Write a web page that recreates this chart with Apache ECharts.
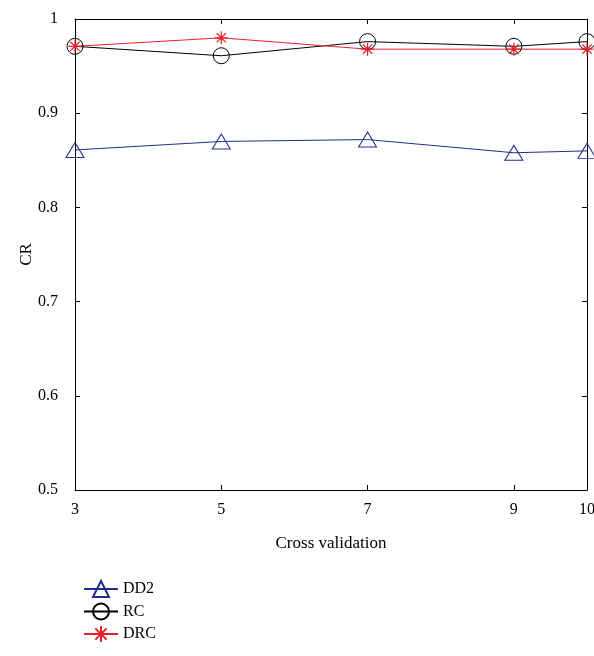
<!DOCTYPE html>
<html><head><meta charset="utf-8">
<script src="https://cdn.jsdelivr.net/npm/echarts@6/dist/echarts.min.js"></script>
<style>html,body{margin:0;padding:0;background:#fff}#c{width:594px;height:656px}</style>
</head><body><div id="c"></div>
<script>
const xValues = [3, 5, 7, 9, 10];
const dd2 = [0.861, 0.870, 0.872, 0.858, 0.860];
const rc = [0.971, 0.961, 0.976, 0.971, 0.976];
const drc = [0.971, 0.980, 0.968, 0.968, 0.968];
const xTicks = [3, 5, 7, 9, 10];
const yTicks = [0.5, 0.6, 0.7, 0.8, 0.9, 1];

const font = 'Liberation Serif';
const star = 'path://M5,0L5,10M0,5L10,5M1.46,1.46L8.54,8.54M1.46,8.54L8.54,1.46';
const pair = v => xValues.map((x, i) => [x, v[i]]);

const chart = echarts.init(document.getElementById('c'));
const axisCommon = {
  axisLine: {show: true, onZero: false, lineStyle: {color: '#000', width: 1}},
  axisTick: {show: true, inside: true, length: 5, lineStyle: {color: '#000'}},
  splitLine: {show: false}
};
chart.setOption({
  animation: false,
  backgroundColor: '#fff',
  grid: {left: 75, right: 7, top: 19, bottom: 166, outerBoundsMode: 'none', containLabel: false},
  xAxis: [
    Object.assign({}, axisCommon, {
      type: 'value', min: 3, max: 10, position: 'bottom',
      axisTick: Object.assign({}, axisCommon.axisTick, {customValues: xTicks}),
      axisLabel: {customValues: xTicks, color: '#000', fontFamily: font, fontSize: 16, margin: 12},
      name: 'Cross validation', nameLocation: 'middle', nameGap: 45,
      nameTextStyle: {color: '#000', fontFamily: font, fontSize: 17}
    }),
    Object.assign({}, axisCommon, {
      type: 'value', min: 3, max: 10, position: 'top',
      axisTick: Object.assign({}, axisCommon.axisTick, {customValues: xTicks}),
      axisLabel: {show: false}
    })
  ],
  yAxis: [
    Object.assign({}, axisCommon, {
      type: 'value', min: 0.5, max: 1, interval: 0.1, position: 'left',
      axisLabel: {color: '#000', fontFamily: font, fontSize: 16, margin: 17,
        formatter: v => (Math.abs(v - 1) < 1e-9 ? '1' : v.toFixed(1))},
      name: 'CR', nameLocation: 'middle', nameGap: 40, nameRotate: 90, nameMoveOverlap: false,
      nameTextStyle: {color: '#000', fontFamily: font, fontSize: 17}
    }),
    Object.assign({}, axisCommon, {
      type: 'value', min: 0.5, max: 1, interval: 0.1, position: 'right',
      axisLabel: {show: false}
    })
  ],
  legend: {
    orient: 'vertical', left: 78, top: 575, itemWidth: 34, itemHeight: 20, itemGap: 4.5,
    textStyle: {color: '#000', fontFamily: font, fontSize: 16},
    data: ['DD2', 'RC', 'DRC']
  },
  series: [
    {name: 'DD2', type: 'line', data: pair(dd2), symbol: 'triangle', symbolSize: [18, 15],
     lineStyle: {color: '#222c8e', width: 1}, itemStyle: {color: 'rgba(0,0,0,0)', borderColor: '#222c8e', borderWidth: 1}},
    {name: 'RC', type: 'line', data: pair(rc), symbol: 'circle', symbolSize: 16,
     lineStyle: {color: '#000', width: 1}, itemStyle: {color: 'rgba(0,0,0,0)', borderColor: '#000', borderWidth: 1}},
    {name: 'DRC', type: 'line', data: pair(drc), symbol: star, symbolSize: 13,
     lineStyle: {color: '#e8202a', width: 1}, itemStyle: {color: '#e8202a', borderColor: '#e8202a', borderWidth: 1.2}}
  ]
});
</script></body></html>
